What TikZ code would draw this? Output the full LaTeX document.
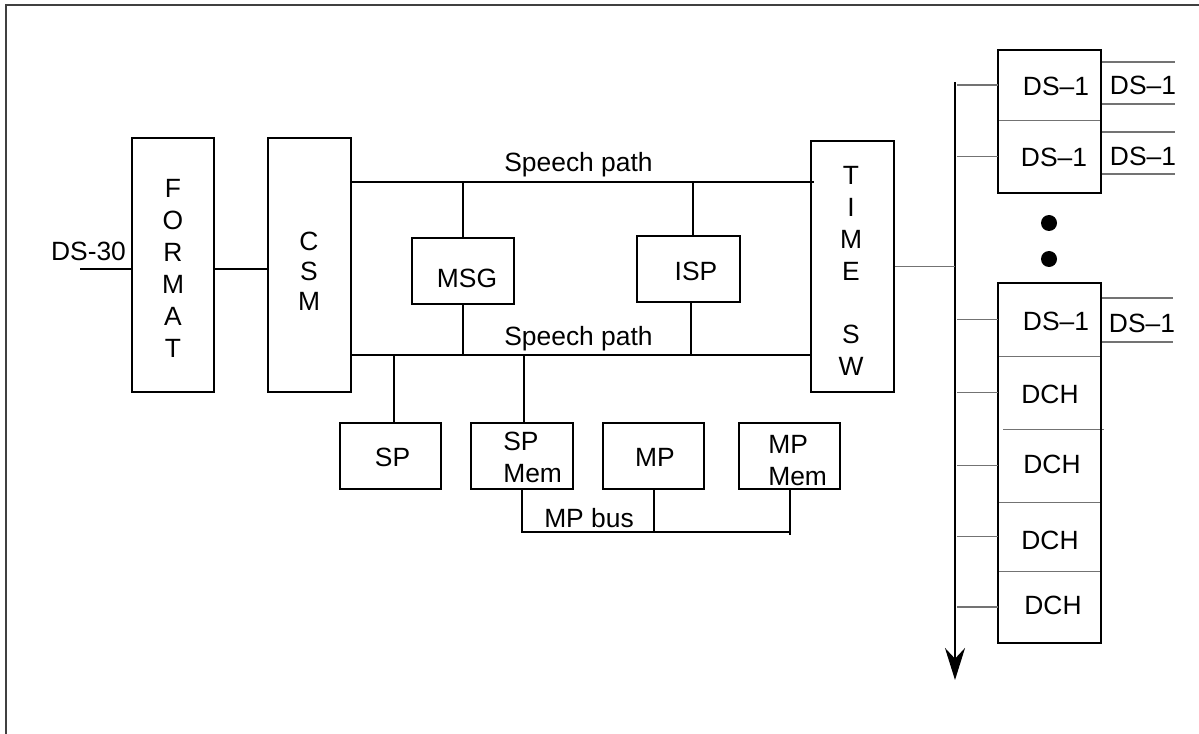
\documentclass[tikz,border=0pt]{standalone}
\usepackage{fontspec}
\setmainfont{Liberation Sans}
\usetikzlibrary{fit,arrows.meta}
\begin{document}
\begin{tikzpicture}[x=0.75pt,y=-0.75pt,
  box/.style={draw=black,line width=1.5pt,inner sep=0pt},
  cell/.style={inner sep=0pt},
  lbl/.style={inner sep=0pt,font=\fontsize{19.8}{23}\selectfont,anchor=base},
  lblw/.style={lbl,anchor=base west},
  stack/.style={inner sep=0pt,align=center},
  wire/.style={line width=1.5pt,black},
  thinln/.style={line width=0.9pt,black!55},
  bus/.style={line width=1.8pt,black,-{Stealth[length=24pt,width=15pt,inset=8pt]}},
  dot/.style={circle,fill=black,inner sep=0pt,minimum size=12pt},
  frame/.style={line width=1.5pt,black!75}]
\useasboundingbox (0,0) rectangle (1199,734);
\draw[frame] (6,734) -- (6,5) -- (1199,5);

% main boxes
\node[box,fit={(132,138) (214,392)}] (fmt) {};
\node[box,fit={(268,138) (351,392)}] (csm) {};
\node[box,fit={(811,141) (894,392)}] (tsw) {};
\node[box,fit={(412,238) (514,304)}] (msg) {};
\node[box,fit={(637,236) (740,302)}] (isp) {};
\node[box,fit={(340,423) (441,489)}] (sp) {};
\node[box,fit={(471,423) (573,489)}] (spm) {};
\node[box,fit={(603,423) (704,489)}] (mp) {};
\node[box,fit={(739,423) (840,489)}] (mpm) {};

% right-hand cells
\node[cell,fit={(998,50) (1101,120)}] (a1) {};
\node[cell,fit={(998,120) (1101,193)}] (a2) {};
\node[cell,fit={(998,283) (1101,356)}] (b1) {};
\node[cell,fit={(998,356) (1101,429)}] (b2) {};
\node[cell,fit={(998,429) (1101,502)}] (b3) {};
\node[cell,fit={(998,502) (1101,571)}] (b4) {};
\node[cell,fit={(998,571) (1101,643)}] (b5) {};
\draw[thinln] (a1.south west) -- (a1.south east);
\draw[thinln] (b1.south west) -- (b1.south east);
\draw[thinln] ([xshift=4pt]b2.south west) -- ([xshift=2pt]b2.south east);
\draw[thinln] (b3.south west) -- (b3.south east);
\draw[thinln] (b4.south west) -- (b4.south east);
\node[box,fit=(a1) (a2)] (grpA) {};
\node[box,fit=(b1) (b2) (b3) (b4) (b5)] (grpB) {};

% dots
\node[dot] (d1) at (1049,223) {};
\node[dot] (d2) at (1049,259) {};

% coordinates
\coordinate (ds30) at (80,269);
\coordinate (yTop) at (0,182);
\coordinate (yBot) at (0,355);
\coordinate (mpbus) at (0,532);
\coordinate (busTop) at (955,82);
\coordinate (busEnd) at (955,680);

% connectors
\draw[wire] (ds30) -- (ds30 -| fmt.west);
\draw[wire] (fmt.east |- ds30) -- (csm.west |- ds30);
\draw[wire] (csm.east |- yTop) -- ([xshift=3pt]tsw.west |- yTop);
\draw[wire] (csm.east |- yBot) -- (tsw.west |- yBot);
\draw[wire] (msg.north) -- (msg.north |- yTop);
\draw[wire] (msg.south) -- (msg.south |- yBot);
\draw[wire] ([xshift=3.5pt]isp.north) -- ([xshift=3.5pt]isp.north |- yTop);
\draw[wire] ([xshift=2pt]isp.south) -- ([xshift=2pt]isp.south |- yBot);
\draw[wire] ([xshift=2.6pt]sp.north) -- ([xshift=2.6pt]sp.north |- yBot);
\draw[wire] ([xshift=1.5pt]spm.north) -- ([xshift=1.5pt]spm.north |- yBot);
\draw[wire] (spm.south) -- (spm.south |- mpbus) -- (mpm.south |- mpbus);
\draw[wire] (mpm.south) -- ([yshift=-2pt]mpm.south |- mpbus);
\draw[wire] (mp.south) -- (mp.south |- mpbus);

\draw[bus] (busTop) -- (busEnd);
\draw[thinln] (tsw.east) -- (tsw.east -| busTop);
\foreach \c in {a1,a2,b1,b2,b3,b4,b5}{
  \draw[thinln] (\c.west) -- ([xshift=1.5pt]\c.west -| busTop);
}

% right-hand DS-1 lines
\draw[thinln] (grpA.north east |- 0,62) -- (1175,62);
\draw[thinln] (grpA.north east |- 0,104) -- (1175,104);
\draw[thinln] (grpA.north east |- 0,132) -- (1175,132);
\draw[thinln] (grpA.north east |- 0,174) -- (1175,174);
\draw[thinln] (grpB.north east |- 0,298) -- (1173,298);
\draw[thinln] (grpB.north east |- 0,342) -- (1173,342);

% labels
\node[lbl] (ds30l) at (88.5,261) {DS-30};
\node[stack,font=\fontsize{19.8}{24}\selectfont] (fmtT) at (173,268) {F\\O\\R\\M\\A\\T};
\node[stack,font=\fontsize{19.8}{22.5}\selectfont] (csmT) at (309,271.5) {C\\S\\M};
\node[stack,font=\fontsize{19.8}{23.8}\selectfont] (tswT) at (851,271) {T\\I\\M\\E\\[23.8pt]S\\W};
\node[lbl] (sp1l) at (578.5,172) {Speech path};
\node[lbl] (sp2l) at (578.5,345) {Speech path};
\node[lbl] (msgT) at (467,287) {MSG};
\node[lbl] (ispT) at (696,281) {ISP};
\node[lbl] (spT) at (392.5,466) {SP};
\node[lblw] (spmT1) at (503,450) {SP};
\node[lblw] (spmT2) at (503,482) {Mem};
\node[lbl] (mpT) at (655,466) {MP};
\node[lblw] (mpmT1) at (768,453) {MP};
\node[lblw] (mpmT2) at (768,485) {Mem};
\node[lbl] (busT) at (589,527) {MP bus};
\node[lbl] (a1T) at (1056,96) {DS–1};
\node[lbl] (a2T) at (1054,167) {DS–1};
\node[lbl] (r1) at (1143,95) {DS–1};
\node[lbl] (r2) at (1143,166) {DS–1};
\node[lbl] (b1T) at (1056,330) {DS–1};
\node[lbl] (r3) at (1142,332) {DS–1};
\node[lbl] (b2T) at (1050,403) {DCH};
\node[lbl] (b3T) at (1052,473) {DCH};
\node[lbl] (b4T) at (1050,549) {DCH};
\node[lbl] (b5T) at (1053,614) {DCH};
\end{tikzpicture}
\end{document}
